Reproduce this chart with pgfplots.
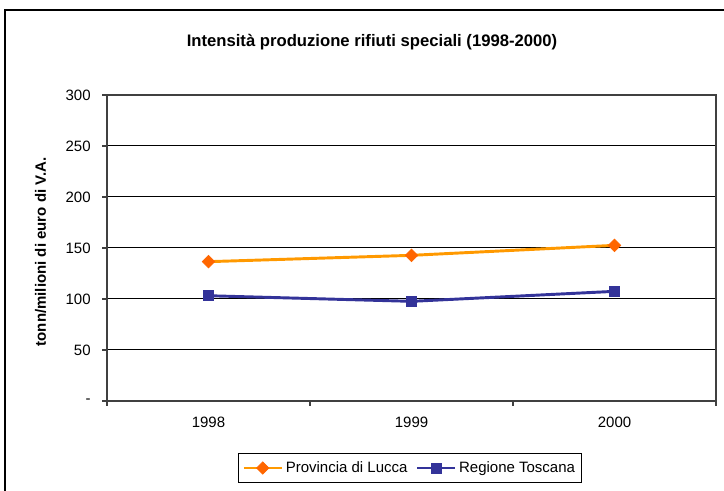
\documentclass[border=0pt]{standalone}
\usepackage{pgfplots}
\pgfplotsset{compat=1.18}
\usepackage{fontspec}
\setmainfont{Liberation Sans}
\definecolor{lucline}{HTML}{FF9900}
\definecolor{lucmark}{HTML}{FF6600}
\definecolor{tosc}{HTML}{333399}
\begin{document}
\begin{tikzpicture}[x=0.75pt,y=0.75pt]
\useasboundingbox (0,0) rectangle (724,491);
\draw[line width=1.2pt,black] (5,0) -- (5,481) -- (724,481);
\node[anchor=base, inner sep=0pt, font=\fontsize{12.5}{15}\selectfont\bfseries] at (372,444) {Intensità produzione rifiuti speciali (1998-2000)};
\begin{axis}[
  at={(80.25pt,67.5pt)}, anchor=south west,
  scale only axis, width=456.75pt, height=229.5pt,
  xmin=0.5, xmax=3.5, ymin=0, ymax=300,
  xtick={1,2,3}, xticklabels={1998,1999,2000},
  minor xtick={0.5,1.5,2.5,3.5},
  major x tick style={draw=none},
  minor x tick style={black!75, line width=0.8pt},
  ytick={0,50,100,150,200,250,300},
  yticklabels={-,50,100,150,200,250,300},
  y tick style={black!75, line width=0.8pt},
  tick align=outside,
  major tick length=3.75pt, minor tick length=3.75pt,
  xtick pos=bottom, ytick pos=left,
  ymajorgrids, grid style={black, line width=0.75pt},
  axis line style={black!75, line width=1.2pt},
  tick label style={font=\fontsize{11.25}{13}\selectfont},
  yticklabel style={xshift=-5pt},
  xticklabel style={yshift=-4.5pt},
  ylabel={\bfseries tonn/milioni di euro di V.A.},
  ylabel style={font=\fontsize{11.25}{13}\selectfont, at={(axis description cs:-0.109,0.487)}, anchor=center, rotate=0},
  legend columns=2,
  legend style={at={(axis description cs:0.4975,-0.219)}, anchor=center,
    draw=black, line width=0.75pt, font=\fontsize{11.25}{13}\selectfont,
    inner xsep=3pt, inner ysep=4pt,
    /tikz/every even column/.append style={column sep=4pt}},
  legend image code/.code={\draw[#1, mark repeat=2, mark phase=2] plot coordinates {(0cm,0cm) (0.5cm,0cm) (1.0cm,0cm)};},
]
\addplot[lucline, line width=2.2pt, mark=square*, mark size=3.3pt,
  mark options={fill=lucmark, draw=lucmark, rotate=45, line width=0.5pt}]
  coordinates {(1,136.6) (2,142.8) (3,152.6)};
\addlegendentry{Provincia di Lucca}
\addplot[tosc, line width=2.2pt, mark=square*, mark size=3.8pt,
  mark options={fill=tosc, draw=tosc, line width=0.5pt}]
  coordinates {(1,103.2) (2,97.7) (3,107.5)};
\addlegendentry{Regione Toscana}
\end{axis}
\end{tikzpicture}
\end{document}
